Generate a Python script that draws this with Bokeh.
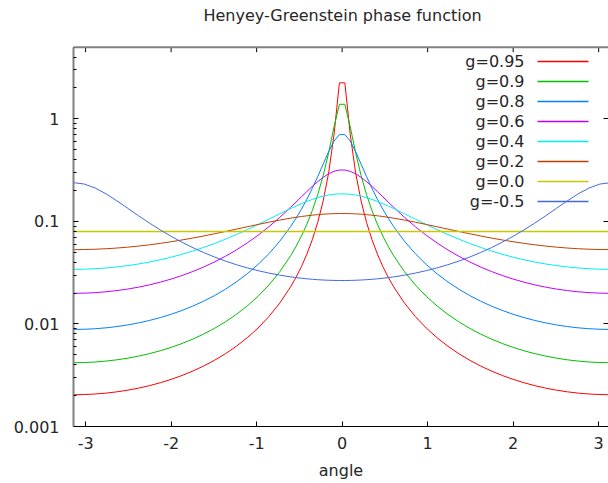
from bokeh.plotting import figure
from bokeh.models import (Range1d, FixedTicker, LogAxis, Label, Span, CustomJSTickFormatter)
from bokeh.embed import file_html
from bokeh.resources import INLINE

# ---- data ----
angles = [-3.1416, -3.0147, -2.8877, -2.7608, -2.6339, -2.5069, -2.3800, -2.2531, -2.1261, -1.9992,
          -1.8723, -1.7453, -1.6184, -1.4915, -1.3645, -1.2376, -1.1107, -0.9837, -0.8568, -0.7299,
          -0.6029, -0.5395, -0.4760, -0.4125, -0.3491, -0.2856, -0.2221, -0.1587, -0.0952, -0.0317,
          0.0317, 0.0952, 0.1587, 0.2221, 0.2856, 0.3491, 0.4125, 0.4760, 0.5395, 0.6029,
          0.7299, 0.8568, 0.9837, 1.1107, 1.2376, 1.3645, 1.4915, 1.6184, 1.7453, 1.8723,
          1.9992, 2.1261, 2.2531, 2.3800, 2.5069, 2.6339, 2.7608, 2.8877, 3.0147, 3.1416]

g095 = [0.002040, 0.002049, 0.002074, 0.002116, 0.002178, 0.002260, 0.002367, 0.002502, 0.002672, 0.002882,
        0.003145, 0.003476, 0.003893, 0.004429, 0.005127, 0.006057, 0.007328, 0.009127, 0.01179, 0.01595,
        0.02299, 0.02849, 0.03630, 0.04793, 0.06627, 0.09764, 0.1578, 0.2943, 0.6988, 2.245,
        2.245, 0.6988, 0.2943, 0.1578, 0.09764, 0.06627, 0.04793, 0.03630, 0.02849, 0.02299,
        0.01595, 0.01179, 0.009127, 0.007328, 0.006057, 0.005127, 0.004429, 0.003893, 0.003476, 0.003145,
        0.002882, 0.002672, 0.002502, 0.002367, 0.002260, 0.002178, 0.002116, 0.002074, 0.002049, 0.002040]

g09 = [0.004188, 0.004205, 0.004256, 0.004344, 0.004470, 0.004639, 0.004857, 0.005134, 0.005480, 0.005912,
       0.006449, 0.007124, 0.007976, 0.009068, 0.01049, 0.01238, 0.01496, 0.01860, 0.02395, 0.03227,
       0.04619, 0.05692, 0.07197, 0.09392, 0.1275, 0.1824, 0.2788, 0.4636, 0.8331, 1.3865,
       1.3865, 0.8331, 0.4636, 0.2788, 0.1824, 0.1275, 0.09392, 0.07197, 0.05692, 0.04619,
       0.03227, 0.02395, 0.01860, 0.01496, 0.01238, 0.01049, 0.009068, 0.007976, 0.007124, 0.006449,
       0.005912, 0.005480, 0.005134, 0.004857, 0.004639, 0.004470, 0.004344, 0.004256, 0.004205, 0.004188]

g08 = [0.008842, 0.008877, 0.008984, 0.009166, 0.009429, 0.009783, 0.01024, 0.01082, 0.01154, 0.01243,
       0.01355, 0.01494, 0.01669, 0.01893, 0.02183, 0.02565, 0.03082, 0.03801, 0.04837, 0.06401,
       0.08894, 0.1072, 0.1315, 0.1644, 0.2099, 0.2733, 0.3612, 0.4767, 0.6064, 0.7021,
       0.7021, 0.6064, 0.4767, 0.3612, 0.2733, 0.2099, 0.1644, 0.1315, 0.1072, 0.08894,
       0.06401, 0.04837, 0.03801, 0.03082, 0.02565, 0.02183, 0.01893, 0.01669, 0.01494, 0.01355,
       0.01243, 0.01154, 0.01082, 0.01024, 0.009783, 0.009429, 0.009166, 0.008984, 0.008877, 0.008842]

g06 = [0.01989, 0.01997, 0.02020, 0.02059, 0.02115, 0.02189, 0.02285, 0.02406, 0.02556, 0.02740,
       0.02967, 0.03247, 0.03594, 0.04026, 0.04571, 0.05264, 0.06158, 0.07325, 0.08870, 0.1094,
       0.1371, 0.1541, 0.1736, 0.1954, 0.2192, 0.2441, 0.2688, 0.2909, 0.3079, 0.3171,
       0.3171, 0.3079, 0.2909, 0.2688, 0.2441, 0.2192, 0.1954, 0.1736, 0.1541, 0.1371,
       0.1094, 0.08870, 0.07325, 0.06158, 0.05264, 0.04571, 0.04026, 0.03594, 0.03247, 0.02967,
       0.02740, 0.02556, 0.02406, 0.02285, 0.02189, 0.02115, 0.02059, 0.02020, 0.01997, 0.01989]

g04 = [0.03410, 0.03422, 0.03456, 0.03513, 0.03596, 0.03705, 0.03844, 0.04016, 0.04226, 0.04479,
       0.04783, 0.05146, 0.05579, 0.06096, 0.06710, 0.07441, 0.08306, 0.09325, 0.1051, 0.1186,
       0.1334, 0.1411, 0.1489, 0.1565, 0.1637, 0.1704, 0.1761, 0.1806, 0.1838, 0.1855,
       0.1855, 0.1838, 0.1806, 0.1761, 0.1704, 0.1637, 0.1565, 0.1489, 0.1411, 0.1334,
       0.1186, 0.1051, 0.09325, 0.08306, 0.07441, 0.06710, 0.06096, 0.05579, 0.05146, 0.04783,
       0.04479, 0.04226, 0.04016, 0.03844, 0.03705, 0.03596, 0.03513, 0.03456, 0.03422, 0.03410]

g02 = [0.05305, 0.05317, 0.05353, 0.05413, 0.05498, 0.05608, 0.05746, 0.05912, 0.06107, 0.06334,
       0.06593, 0.06886, 0.07214, 0.07576, 0.07974, 0.08403, 0.08859, 0.09334, 0.09818, 0.1030,
       0.1075, 0.1096, 0.1116, 0.1134, 0.1150, 0.1164, 0.1176, 0.1184, 0.1190, 0.1193,
       0.1193, 0.1190, 0.1184, 0.1176, 0.1164, 0.1150, 0.1134, 0.1116, 0.1096, 0.1075,
       0.1030, 0.09818, 0.09334, 0.08859, 0.08403, 0.07974, 0.07576, 0.07214, 0.06886, 0.06593,
       0.06334, 0.06107, 0.05912, 0.05746, 0.05608, 0.05498, 0.05413, 0.05353, 0.05317, 0.05305]

g00_angles = [-3.1416, 3.1416]
g00 = [0.0796, 0.0796]

gm05 = [0.2387, 0.2313, 0.2116, 0.1856, 0.1587, 0.1342, 0.1134, 0.09635, 0.08258, 0.07151,
        0.06262, 0.05545, 0.04964, 0.04490, 0.04102, 0.03784, 0.03523, 0.03309, 0.03133, 0.02991,
        0.02878, 0.02831, 0.02790, 0.02755, 0.02726, 0.02701, 0.02682, 0.02667, 0.02658, 0.02653,
        0.02653, 0.02658, 0.02667, 0.02682, 0.02701, 0.02726, 0.02755, 0.02790, 0.02831, 0.02878,
        0.02991, 0.03133, 0.03309, 0.03523, 0.03784, 0.04102, 0.04490, 0.04964, 0.05545, 0.06262,
        0.07151, 0.08258, 0.09635, 0.1134, 0.1342, 0.1587, 0.1856, 0.2116, 0.2313, 0.2387]

labels = ["g=0.95", "g=0.9", "g=0.8", "g=0.6", "g=0.4", "g=0.2", "g=0.0", "g=-0.5"]
colors = ["#ff0000", "#00c000", "#0080ff", "#c000ff", "#00eeee", "#c04000", "#c8c800", "#4169e1"]
widths = [1, 1, 1, 1, 1, 1, 1.5, 1]
xs_list = [angles, angles, angles, angles, angles, angles, g00_angles, angles]
ys_list = [g095, g09, g08, g06, g04, g02, g00, gm05]

x_ticks = [-3, -2, -1, 0, 1, 2, 3]
y_ticks = [0.001, 0.01, 0.1, 1]
y_minor = [0.002, 0.003, 0.004, 0.005, 0.006, 0.007, 0.008, 0.009,
           0.02, 0.03, 0.04, 0.05, 0.06, 0.07, 0.08, 0.09,
           0.2, 0.3, 0.4, 0.5, 0.6, 0.7, 0.8, 0.9,
           2, 3, 4, 5]
y_lo, y_hi = 0.001, 5.0          # visible axis extent
x_lo, x_hi = -3.1416, 3.115      # visible x extent (the right edge is cut by the window)

title_text = "Henyey-Greenstein phase function"
x_label = "angle"

# ---- layout constants ----
FONT = "DejaVu Sans"
TXT = "#262626"
FS = "16px"
W, H = 608, 483
LEFT, BOTTOM = 73, 57           # frame offsets (px)
DECADE_PX = 102.55              # px per decade on the log axis
FRAME_W = W - LEFT
FRAME_H = H - BOTTOM
# frame reaches the top of the canvas so the title can sit inside it;
# the visible box still stops at y_hi (top border drawn as a span)
y_range_top = 10 ** (-3 + FRAME_H / DECADE_PX)


def sx_to_data(px):      # frame-relative px -> x data value
    return x_lo + px * (x_hi - x_lo) / FRAME_W


def sy_to_data(py):      # frame-relative px (from bottom) -> y data value
    return 10 ** (-3 + py / DECADE_PX)


p = figure(width=W, height=H, y_axis_type="log",
           x_range=Range1d(x_lo, x_hi), y_range=Range1d(y_lo, y_range_top),
           output_backend="svg", toolbar_location=None,
           min_border_left=LEFT, min_border_right=0, min_border_top=0, min_border_bottom=BOTTOM)
p.outline_line_color = None
p.background_fill_color = "white"
p.border_fill_color = "white"
p.xgrid.visible = False
p.ygrid.visible = False

for xs, ys, c, w in zip(xs_list, ys_list, colors, widths):
    p.line(xs, ys, line_color=c, line_width=w)

# bottom axis
xa = p.xaxis[0]
xa.ticker = FixedTicker(ticks=x_ticks)
xa.formatter = CustomJSTickFormatter(code="return tick.toString();")
xa.axis_label = x_label
xa.axis_label_text_font = FONT
xa.axis_label_text_font_size = FS
xa.axis_label_text_font_style = "normal"
xa.axis_label_text_color = TXT
xa.axis_label_standoff = 9
xa.major_label_text_font = FONT
xa.major_label_text_font_size = FS
xa.major_label_text_color = TXT
xa.major_label_standoff = 10
xa.major_tick_in = 5
xa.major_tick_out = 0
xa.minor_tick_line_color = None
xa.axis_line_color = "#000000"
xa.major_tick_line_color = "#000000"

# left axis
ya = p.yaxis[0]
ya.bounds = (y_lo, y_hi)
ya.ticker = FixedTicker(ticks=y_ticks, minor_ticks=y_minor)
ya.formatter = CustomJSTickFormatter(code="return tick.toString();")
ya.major_label_text_font = FONT
ya.major_label_text_font_size = FS
ya.major_label_text_color = TXT
ya.major_label_standoff = 14
ya.major_tick_in = 5
ya.major_tick_out = 0
ya.minor_tick_in = 3
ya.minor_tick_out = 0
ya.axis_line_color = "#808080"
ya.axis_line_width = 2
ya.major_tick_line_color = "#000000"
ya.minor_tick_line_color = "#000000"

# right mirror ticks
right = LogAxis(ticker=FixedTicker(ticks=y_ticks), bounds=(y_lo, y_hi),
                formatter=CustomJSTickFormatter(code="return '';"),
                major_label_text_font_size="2px",
                major_label_standoff=0, major_tick_in=5, major_tick_out=0,
                minor_tick_line_color=None, axis_line_color=None,
                major_tick_line_color="#000000")
p.add_layout(right, "right")

# top border with mirror ticks
p.add_layout(Span(location=y_hi, dimension="width", line_color="#808080", line_width=2))
tick_foot = y_hi * 10 ** (-5 / DECADE_PX)
p.segment(x0=x_ticks, y0=[y_hi] * len(x_ticks), x1=x_ticks, y1=[tick_foot] * len(x_ticks),
          line_color="#000000", line_width=1)

# title (inside the extended frame, above the top border)
p.add_layout(Label(x=269, y=FRAME_H - 15, x_units="screen", y_units="screen", text=title_text,
                   text_align="center", text_baseline="middle", text_font=FONT,
                   text_font_size=FS, text_color=TXT))

# legend (gnuplot style: label then line sample)
leg_rows = [FRAME_H - 61 - 20 * i for i in range(len(labels))]
for lab, yy in zip(labels, leg_rows):
    p.add_layout(Label(x=451, y=yy, x_units="screen", y_units="screen", text=lab,
                       text_align="right", text_baseline="middle", text_font=FONT,
                       text_font_size=FS, text_color=TXT))
leg_y = [sy_to_data(yy) for yy in leg_rows]
p.segment(x0=[sx_to_data(464)] * len(labels), x1=[sx_to_data(515)] * len(labels),
          y0=leg_y, y1=leg_y, line_color=colors, line_width=1.6)

open("out.html", "w").write(file_html(p, INLINE))
